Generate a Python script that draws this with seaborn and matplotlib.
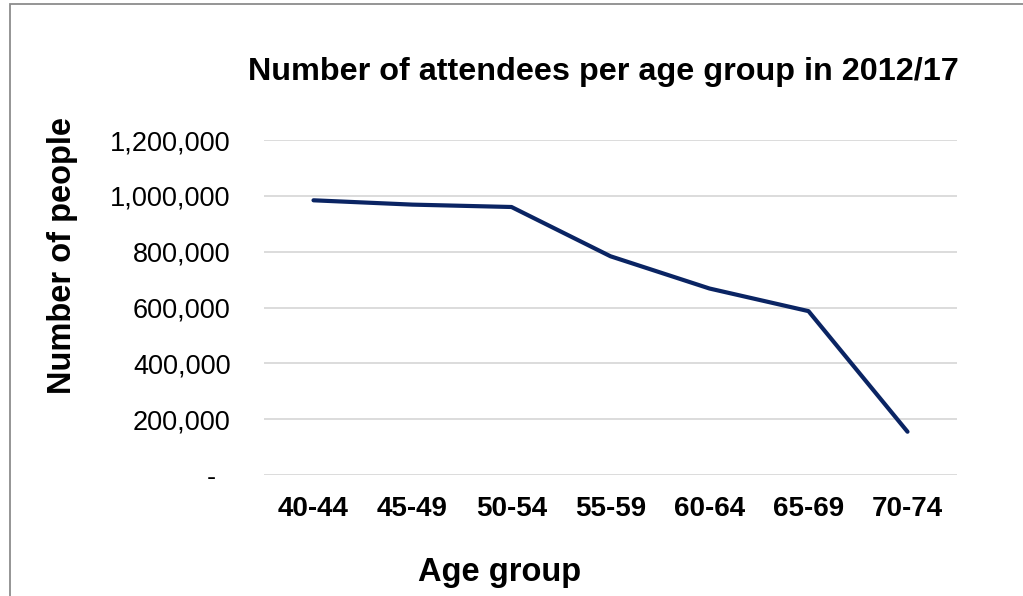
import matplotlib
matplotlib.use("Agg")
import matplotlib.pyplot as plt
from matplotlib.patches import Rectangle
from matplotlib.ticker import FuncFormatter, MultipleLocator
import seaborn as sns
import pandas as pd

# Attendance by age group, 2012/17
age_groups = ["40-44", "45-49", "50-54", "55-59", "60-64", "65-69", "70-74"]
attendees = [984000, 968500, 960000, 783500, 668000, 587000, 155000]

df = pd.DataFrame({"age_group": age_groups, "attendees": attendees})

sns.set_theme(style="white")
plt.rcParams["font.family"] = ["Liberation Sans", "DejaVu Sans"]
plt.rcParams["text.color"] = "black"
plt.rcParams["axes.labelcolor"] = "black"
plt.rcParams["xtick.color"] = "black"
plt.rcParams["ytick.color"] = "black"

W, H = 1023, 596
fig = plt.figure(figsize=(W / 100, H / 100), dpi=100)
ax = fig.add_axes([264 / W, (H - 475) / H, (957 - 264) / W, (475 - 140) / H])

sns.lineplot(data=df, x="age_group", y="attendees", sort=False,
             color="#0A2463", linewidth=3.0, ax=ax,
             solid_capstyle="round", solid_joinstyle="round")

ax.set_xlim(-0.5, len(age_groups) - 0.5)
ax.set_ylim(0, 1_200_000)
ax.yaxis.set_major_locator(MultipleLocator(200_000))


def fmt(v, _pos):
    if abs(v) < 1:
        return "-  "
    return f"{v:,.0f}"


ax.yaxis.set_major_formatter(FuncFormatter(fmt))
ax.grid(axis="y", color="#D9D9D9", linewidth=1.3)
ax.grid(axis="x", visible=False)
for s in ax.spines.values():
    s.set_visible(False)

ax.tick_params(axis="y", length=0, pad=24, labelsize=19.5, labelcolor="black")
ax.tick_params(axis="x", length=0, pad=15, labelsize=20, labelcolor="black")
for lbl in ax.get_xticklabels():
    lbl.set_fontweight("bold")

ax.set_xlabel("Age group", fontsize=23.5, fontweight="bold", va="center",
              color="black")
ax.xaxis.set_label_coords((500 - 264) / 693, (475 - 572) / 335)
ax.set_ylabel("Number of people", fontsize=23.5, fontweight="bold",
              va="center", color="black")
ax.yaxis.set_label_coords((62 - 264) / 693, (475 - 256) / 335)

fig.text(603 / W, 1 - 72 / H, "Number of attendees per age group in 2012/17",
         ha="center", va="center", fontsize=23.3, fontweight="bold",
         color="black")

# Chart-area frame (top and left edges visible)
fig.patches.append(Rectangle((10 / W, -0.05), 1.2, (H - 4) / H + 0.05,
                             transform=fig.transFigure, fill=False,
                             edgecolor="#8C8C8C", linewidth=1.3))

fig.savefig("out.png", dpi=100)
